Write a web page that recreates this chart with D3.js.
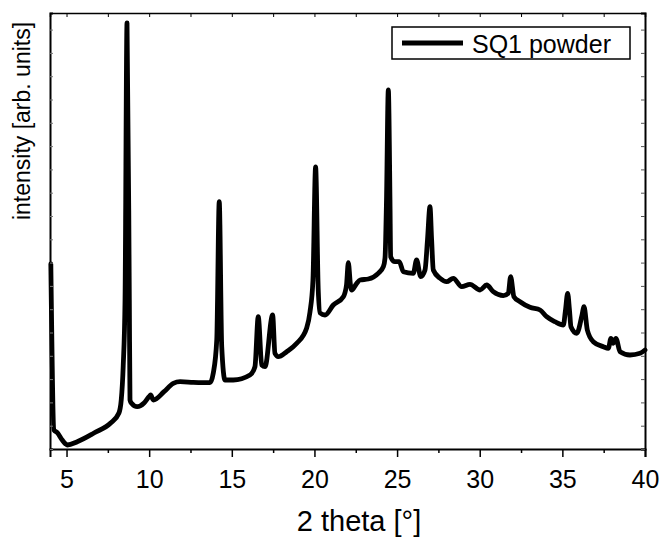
<!DOCTYPE html>
<html>
<head>
<meta charset="utf-8">
<script src="https://cdn.jsdelivr.net/npm/d3@7"></script>
<style>
  body { margin: 0; background: #fff; }
  text { font-family: "Liberation Sans", Arial, sans-serif; fill: #000; }
</style>
</head>
<body>
<div id="chart"></div>
<script>
// diffraction pattern: 2 theta and intensity (arb. units)
const theta = [4.05, 4.24, 4.44, 4.74, 4.95, 5.05, 5.65, 6.66, 7.67, 8.17, 8.31, 8.43, 8.54, 8.66, 8.80, 8.84, 8.92, 9.28, 9.69, 9.99,
  10.09, 10.25, 10.90, 11.46, 11.87, 12.67, 13.68, 13.88, 14.09, 14.24, 14.39, 14.59, 15.09, 16.10, 16.40, 16.60, 16.81, 17.01, 17.47, 17.61,
  17.81, 18.32, 18.93, 19.53, 19.73, 19.91, 20.07, 20.23, 20.34, 20.64, 21.14, 21.75, 21.94, 22.05, 22.18, 22.25, 22.56, 22.76, 23.26, 23.86,
  24.17, 24.27, 24.36, 24.47, 24.57, 24.61, 24.87, 25.13, 25.38, 25.98, 26.18, 26.43, 26.69, 26.84, 26.99, 27.09, 27.19, 27.60, 28.00, 28.40,
  28.91, 29.41, 30.02, 30.42, 30.82, 31.43, 31.73, 31.87, 32.07, 32.44, 33.04, 33.65, 34.05, 34.55, 35.06, 35.19, 35.32, 35.43, 35.52, 35.87,
  36.19, 36.31, 36.51, 36.87, 37.48, 37.78, 37.94, 38.08, 38.24, 38.49, 39.09, 39.70, 40.00];
const intensity = [1850, 190, 163, 90, 50, 40, 73, 160, 260, 360, 490, 830, 1490, 4260, 1490, 490, 460, 423, 460, 523,
  540, 490, 573, 657, 673, 667, 663, 760, 1090, 2473, 1023, 690, 690, 740, 823, 1323, 840, 823, 1340, 957,
  923, 973, 1057, 1210, 1370, 1690, 2820, 1590, 1360, 1340, 1440, 1523, 1640, 1863, 1640, 1590, 1657, 1690, 1700, 1757,
  1823, 1910, 2490, 3590, 2490, 1923, 1873, 1873, 1773, 1757, 1890, 1723, 1790, 2090, 2423, 2090, 1790, 1707, 1673, 1707,
  1623, 1647, 1590, 1640, 1573, 1533, 1557, 1723, 1523, 1473, 1417, 1390, 1323, 1273, 1240, 1390, 1557, 1390, 1223, 1157,
  1340, 1423, 1190, 1073, 1023, 1007, 1107, 1057, 1107, 973, 940, 957, 990];

const xTicks = [5, 10, 15, 20, 25, 30, 35, 40];
const xMinor = [7.5, 12.5, 17.5, 22.5, 27.5, 32.5, 37.5];
const seriesName = 'SQ1 powder';

const width = 662, height = 537;
const margin = {top: 13, right: 17, bottom: 88, left: 50};
const plotW = width - margin.left - margin.right;
const plotH = height - margin.top - margin.bottom;

const data = theta.map((t, i) => ({t: t, v: intensity[i]}));

const svg = d3.select('#chart').append('svg')
    .attr('width', width)
    .attr('height', height);

const g = svg.append('g')
  .attr('transform', `translate(${margin.left}, ${margin.top})`);

const x = d3.scaleLinear().domain([4, 40]).range([0, plotW]);
const y = d3.scaleLinear().domain([0, 4360]).range([plotH, 0]);

// curve
const line = d3.line()
  .x(d => x(d.t))
  .y(d => y(d.v))
  .curve(d3.curveMonotoneX);

g.append('path')
  .datum(data)
  .attr('d', line)
  .attr('fill', 'none')
  .attr('stroke', '#000')
  .attr('stroke-width', 4.8)
  .attr('stroke-linejoin', 'round')
  .attr('stroke-linecap', 'round');

// bottom axis, ticks outside
const xAxis = g.append('g')
  .attr('transform', `translate(0, ${plotH})`)
  .call(d3.axisBottom(x).tickValues(xTicks).tickSize(8).tickPadding(13).tickFormat(d3.format('d')));
xAxis.select('.domain').attr('stroke-width', 2);
xAxis.selectAll('.tick line').attr('stroke-width', 1.5);
xAxis.selectAll('.tick text').style('font-size', '25px');

g.append('g')
  .attr('transform', `translate(0, ${plotH})`)
  .call(d3.axisBottom(x).tickValues(xMinor).tickSize(4).tickFormat(''))
  .call(a => a.select('.domain').remove())
  .selectAll('.tick line').attr('stroke-width', 1.5);

// top axis, ticks inside
g.append('g')
  .call(d3.axisTop(x).tickValues(xTicks.concat(xMinor)).tickSize(-4).tickFormat(''))
  .call(a => a.select('.domain').attr('stroke-width', 1.5))
  .selectAll('.tick line').attr('stroke-width', 1);

// left and right axes with small unlabeled ticks
const yTicks = d3.range(0, 4360, 233);
g.append('g')
  .call(d3.axisLeft(y).tickValues(yTicks).tickSize(-3).tickFormat(''))
  .call(a => a.select('.domain').attr('stroke-width', 2))
  .selectAll('.tick line').attr('stroke-width', 1).attr('stroke', '#777');

g.append('g')
  .attr('transform', `translate(${plotW}, 0)`)
  .call(d3.axisRight(y).tickValues(yTicks).tickSize(-4).tickFormat(''))
  .call(a => a.select('.domain').attr('stroke-width', 2))
  .selectAll('.tick line').attr('stroke-width', 1).attr('stroke', '#555');

// axis titles
svg.append('text')
  .attr('x', 359)
  .attr('y', 531)
  .attr('text-anchor', 'middle')
  .style('font-size', '29px')
  .text('2 theta [°]');

svg.append('text')
  .attr('transform', 'translate(30, 121) rotate(-90)')
  .attr('text-anchor', 'middle')
  .style('font-size', '23px')
  .text('intensity [arb. units]');

// legend
const legend = svg.append('g').attr('transform', 'translate(392, 27)');
legend.append('rect')
  .attr('width', 238).attr('height', 32)
  .attr('fill', '#fff').attr('stroke', '#000').attr('stroke-width', 1.5);
legend.append('line')
  .attr('x1', 10).attr('x2', 71).attr('y1', 16).attr('y2', 16)
  .attr('stroke', '#000').attr('stroke-width', 4.8);
legend.append('text')
  .attr('x', 80).attr('y', 26)
  .style('font-size', '25px')
  .text(seriesName);
</script>
</body>
</html>
